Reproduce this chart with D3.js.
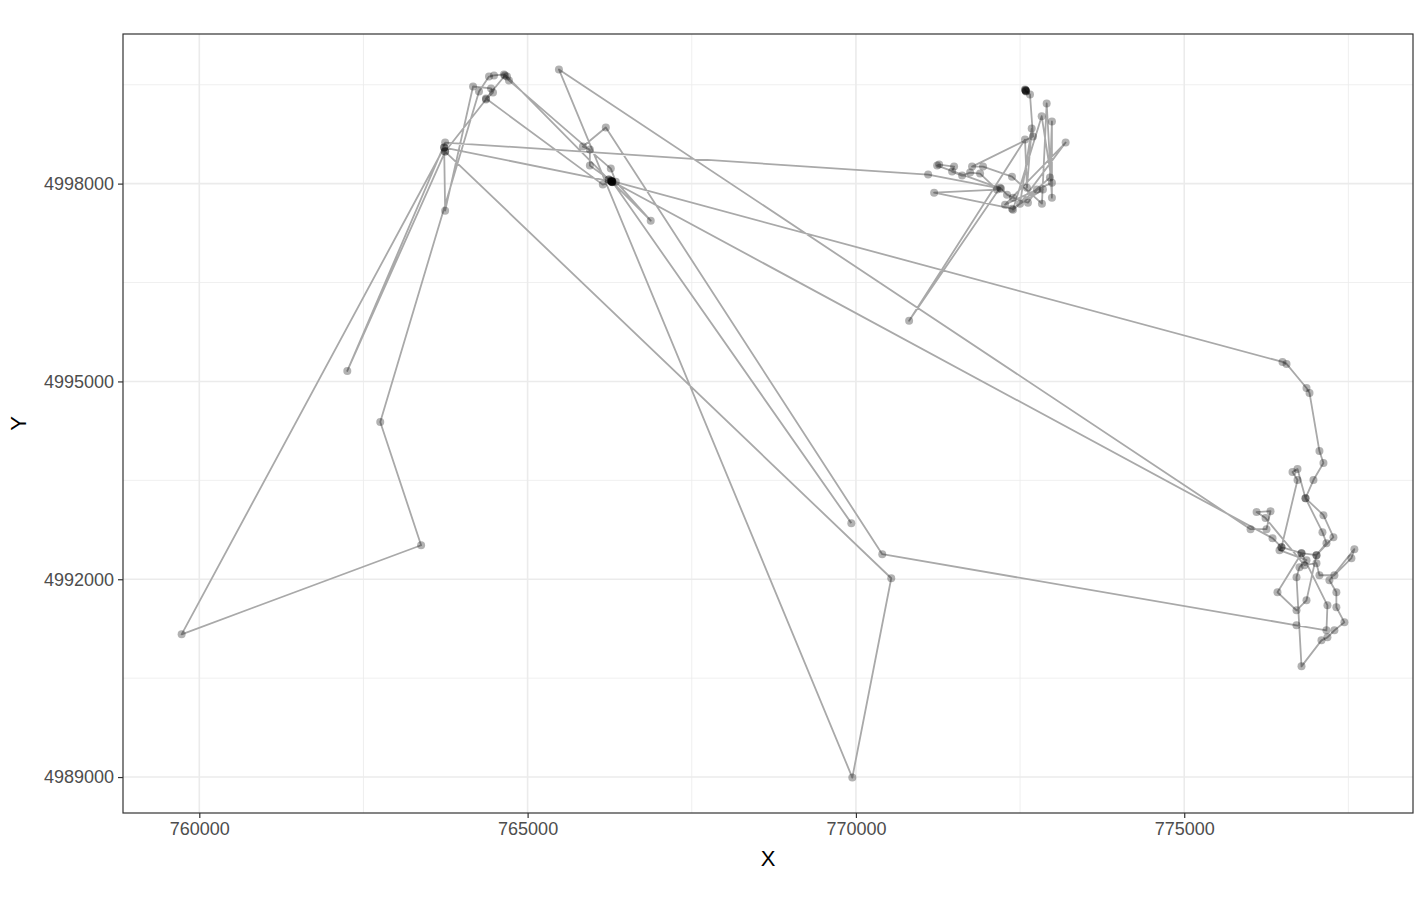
<!DOCTYPE html>
<html>
<head>
<meta charset="utf-8">
<script src="https://cdn.jsdelivr.net/npm/d3@7"></script>
<style>
    body { margin: 0; background: #ffffff; }
    #trackplot { font-family: "Liberation Sans", Arial, sans-serif; }
</style>
</head>
<body>
<div id="trackplot"></div>
<script>
// Track coordinates in path order (X = easting, Y = northing)
const trackX = [
    772586, 772575, 772590, 772580, 772592, 772584, 772651, 772697, 771769, 771936,
    772377, 772833, 772905, 772985, 772985, 772955, 772392, 772829, 772985, 772271,
    773194, 772499, 772677, 772605, 772575, 770810, 772195, 772301, 772392, 772620,
    772757, 772848, 772377, 771191, 772149, 771891, 771739, 771617, 771465, 771495,
    771267, 771237, 772210, 771100, 763744, 762254, 763744, 764366, 764473, 764443,
    764169, 763744, 763729, 759731, 763378, 762756, 764260, 764412, 764488, 764640,
    764686, 766236, 766282, 766875, 766343, 766267, 764716, 764655, 764366, 766145,
    766282, 766290, 766275, 776345, 776481, 776786, 777014, 777272, 777120, 776847,
    776725, 776649, 776725, 776481, 776451, 776862, 776755, 776710, 776786, 777090,
    777181, 777287, 777439, 777317, 777317, 777211, 777591, 777546, 777287, 777059,
    777014, 776832, 776238, 776102, 776314, 776253, 776010, 765477, 769945, 770538,
    763744, 763729, 766282, 766275, 776497, 776558, 776862, 776908, 777059, 777120,
    776968, 776847, 777105, 777166, 777014, 776862, 776710, 776420, 776786, 777181,
    777166, 776710, 770401, 766191, 765842, 765948, 765948, 766267, 766236, 766290,
    766282, 766285, 769930
];
const trackY = [
    4999413, 4999428, 4999397, 4999420, 4999405, 4999410, 4999352, 4998714, 4998258, 4998258,
    4998106, 4997696, 4999215, 4997787, 4998942, 4998091, 4997605, 4999022, 4998015, 4997681,
    4998623, 4997696, 4998835, 4997939, 4998668, 4995919, 4997939, 4997833, 4997787, 4997711,
    4997909, 4997909, 4997620, 4997863, 4997909, 4998152, 4998167, 4998122, 4998182, 4998258,
    4998289, 4998273, 4997924, 4998137, 4998623, 4995159, 4998486, 4999276, 4999382, 4999443,
    4999473, 4997590, 4998547, 4991165, 4992516, 4994385, 4999397, 4999624, 4999640, 4999655,
    4999624, 4998061, 4998030, 4997438, 4998030, 4998228, 4999565, 4999640, 4999290, 4997985,
    4998030, 4998020, 4998040, 4992623, 4992486, 4992395, 4992365, 4992638, 4992972, 4993230,
    4993671, 4993625, 4993504, 4992486, 4992441, 4992289, 4992182, 4992030, 4990679, 4991073,
    4991119, 4991225, 4991347, 4991575, 4991803, 4991985, 4992456, 4992319, 4992061, 4992061,
    4992243, 4992213, 4992927, 4993018, 4993033, 4992759, 4992759, 4999732, 4988992, 4992015,
    4998486, 4998547, 4998030, 4998040, 4995296, 4995266, 4994901, 4994826, 4993944, 4993762,
    4993504, 4993230, 4992714, 4992547, 4992365, 4991681, 4991529, 4991803, 4992395, 4991605,
    4991225, 4991301, 4992380, 4998851, 4998562, 4998516, 4998273, 4998046, 4998061, 4998025,
    4998030, 4998035, 4992851
];

// Axis breaks
const xTicks = [760000, 765000, 770000, 775000];
const xMinor = [757500, 762500, 767500, 772500, 777500];
const yTicks = [4989000, 4992000, 4995000, 4998000];
const yMinor = [4987500, 4990500, 4993500, 4996500, 4999500];

const track = trackX.map((x, i) => ({ x: x, y: trackY[i] }));

function drawTrack() {
    const margin = { top: 34, right: 12, bottom: 87, left: 123 },
          width = 1425 - margin.left - margin.right,
          height = 900 - margin.top - margin.bottom;

    const svg = d3.select("#trackplot")
        .append("svg")
        .attr("width", 1425)
        .attr("height", 900);

    const g = svg.append("g")
        .attr("transform", `translate(${margin.left},${margin.top})`);

    // ggplot style 5% expansion of the data range
    const xExt = d3.extent(track, d => d.x),
          yExt = d3.extent(track, d => d.y);
    const xPad = (xExt[1] - xExt[0]) * 0.05,
          yPad = (yExt[1] - yExt[0]) * 0.05;

    const x = d3.scaleLinear()
        .domain([xExt[0] - xPad, xExt[1] + xPad])
        .range([0, width]);
    const y = d3.scaleLinear()
        .domain([yExt[0] - yPad, yExt[1] + yPad])
        .range([height, 0]);

    const inX = v => v >= x.domain()[0] && v <= x.domain()[1];
    const inY = v => v >= y.domain()[0] && v <= y.domain()[1];

    // minor grid
    g.selectAll(".xminor").data(xMinor.filter(inX)).enter().append("line")
        .attr("x1", d => x(d)).attr("x2", d => x(d))
        .attr("y1", 0).attr("y2", height)
        .attr("stroke", "#ebebeb").attr("stroke-width", 0.8);
    g.selectAll(".yminor").data(yMinor.filter(inY)).enter().append("line")
        .attr("x1", 0).attr("x2", width)
        .attr("y1", d => y(d)).attr("y2", d => y(d))
        .attr("stroke", "#ebebeb").attr("stroke-width", 0.8);

    // major grid
    g.selectAll(".xmajor").data(xTicks).enter().append("line")
        .attr("x1", d => x(d)).attr("x2", d => x(d))
        .attr("y1", 0).attr("y2", height)
        .attr("stroke", "#ebebeb").attr("stroke-width", 1.6);
    g.selectAll(".ymajor").data(yTicks).enter().append("line")
        .attr("x1", 0).attr("x2", width)
        .attr("y1", d => y(d)).attr("y2", d => y(d))
        .attr("stroke", "#ebebeb").attr("stroke-width", 1.6);

    // the path
    const line = d3.line()
        .x(d => x(d.x))
        .y(d => y(d.y));

    g.append("path")
        .datum(track)
        .attr("fill", "none")
        .attr("stroke", "#a9a9a9")
        .attr("stroke-width", 1.8)
        .attr("stroke-linejoin", "round")
        .attr("d", line);

    // points
    g.selectAll(".fix").data(track).enter().append("circle")
        .attr("cx", d => x(d.x))
        .attr("cy", d => y(d.y))
        .attr("r", 4)
        .attr("fill", "#000000")
        .attr("fill-opacity", 0.3);

    // panel border
    g.append("rect")
        .attr("x", 0).attr("y", 0)
        .attr("width", width).attr("height", height)
        .attr("fill", "none")
        .attr("stroke", "#333333")
        .attr("stroke-width", 1.2);

    // axes
    const xAxis = g.append("g")
        .attr("transform", `translate(0,${height})`)
        .call(d3.axisBottom(x).tickValues(xTicks).tickFormat(d3.format("d")).tickSize(5).tickPadding(4));
    const yAxis = g.append("g")
        .call(d3.axisLeft(y).tickValues(yTicks).tickFormat(d3.format("d")).tickSize(5).tickPadding(4));

    [xAxis, yAxis].forEach(a => {
        a.select(".domain").remove();
        a.selectAll(".tick line").attr("stroke", "#333333").attr("stroke-width", 1.2);
        a.selectAll(".tick text")
            .attr("fill", "#4d4d4d")
            .style("font-size", "18px")
            .style("font-family", "Liberation Sans, Arial, sans-serif");
    });

    // axis titles
    svg.append("text")
        .attr("x", margin.left + width / 2)
        .attr("y", 866)
        .attr("text-anchor", "middle")
        .style("font-size", "22px")
        .attr("fill", "#000")
        .text("X");
    svg.append("text")
        .attr("transform", `translate(26,${margin.top + height / 2}) rotate(-90)`)
        .attr("text-anchor", "middle")
        .style("font-size", "22px")
        .attr("fill", "#000")
        .text("Y");
}

drawTrack();
</script>
</body>
</html>
